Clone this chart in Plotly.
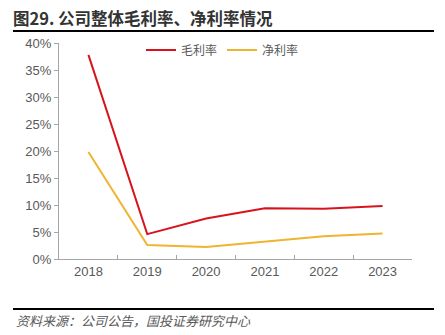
import plotly.graph_objects as go

years = ["2018", "2019", "2020", "2021", "2022", "2023"]
gross_margin = [37.8, 4.6, 7.5, 9.4, 9.3, 9.8]
net_margin = [19.8, 2.6, 2.2, 3.2, 4.2, 4.7]
y_ticks = [0, 5, 10, 15, 20, 25, 30, 35, 40]
y_tick_labels = [f"{v}%" for v in y_ticks]

W, H = 445, 335
ml, mr, mt, mb = 59, 33, 43, 76

fig = go.Figure()
fig.add_trace(go.Scatter(x=years, y=gross_margin, mode="lines", name="毛利率",
                         line=dict(color="#D7141E", width=2)))
fig.add_trace(go.Scatter(x=years, y=net_margin, mode="lines", name="净利率",
                         line=dict(color="#EFB431", width=2)))

pw = W - ml - mr
ph = H - mt - mb

def px(x):
    return (x - ml) / pw

def py(y):
    return (H - mb - y) / ph

fig.update_layout(
    width=W, height=H,
    margin=dict(l=ml, r=mr, t=mt, b=mb),
    paper_bgcolor="white", plot_bgcolor="white",
    font=dict(family="Liberation Sans, Arial, Noto Sans CJK SC", color="#595959", size=13),
    showlegend=True,
    legend=dict(orientation="h", x=px(141), y=py(50), xanchor="left", yanchor="middle",
                font=dict(size=12, color="#595959", family="Noto Sans CJK SC"),
                bgcolor="rgba(0,0,0,0)", itemwidth=30, tracegroupgap=0),
    xaxis=dict(type="category", range=[-0.5, 5.5], showline=True, linecolor="#A6A6A6",
               linewidth=1, ticks="inside", ticklen=4, tickcolor="#A6A6A6",
               tickson="boundaries", showgrid=False, zeroline=False,
               tickfont=dict(size=13, color="#595959")),
    yaxis=dict(range=[0, 40], tickvals=y_ticks, ticktext=y_tick_labels, showline=True,
               linecolor="#A6A6A6", linewidth=1, ticks="outside", ticklen=4,
               tickcolor="#A6A6A6", showgrid=False, zeroline=False,
               tickfont=dict(size=13, color="#595959")),
    shapes=[
        dict(type="line", xref="paper", yref="paper", x0=px(13), x1=px(434),
             y0=py(31), y1=py(31), line=dict(color="black", width=2)),
        dict(type="line", xref="paper", yref="paper", x0=px(13), x1=px(434),
             y0=py(309), y1=py(309), line=dict(color="black", width=2)),
    ],
    annotations=[
        dict(text="<b>图29. 公司整体毛利率、净利率情况</b>", xref="paper", yref="paper",
             x=px(11), y=py(18), xanchor="left", yanchor="middle", showarrow=False,
             font=dict(size=16.5, color="#333333", family="Noto Sans CJK SC")),
        dict(text="<i>资料来源：公司公告，国投证券研究中心</i>", xref="paper", yref="paper",
             x=px(14), y=py(320), xanchor="left", yanchor="middle", showarrow=False,
             font=dict(size=13, color="#595959", family="Noto Sans CJK SC")),
    ],
)

fig.write_html("out.html")
